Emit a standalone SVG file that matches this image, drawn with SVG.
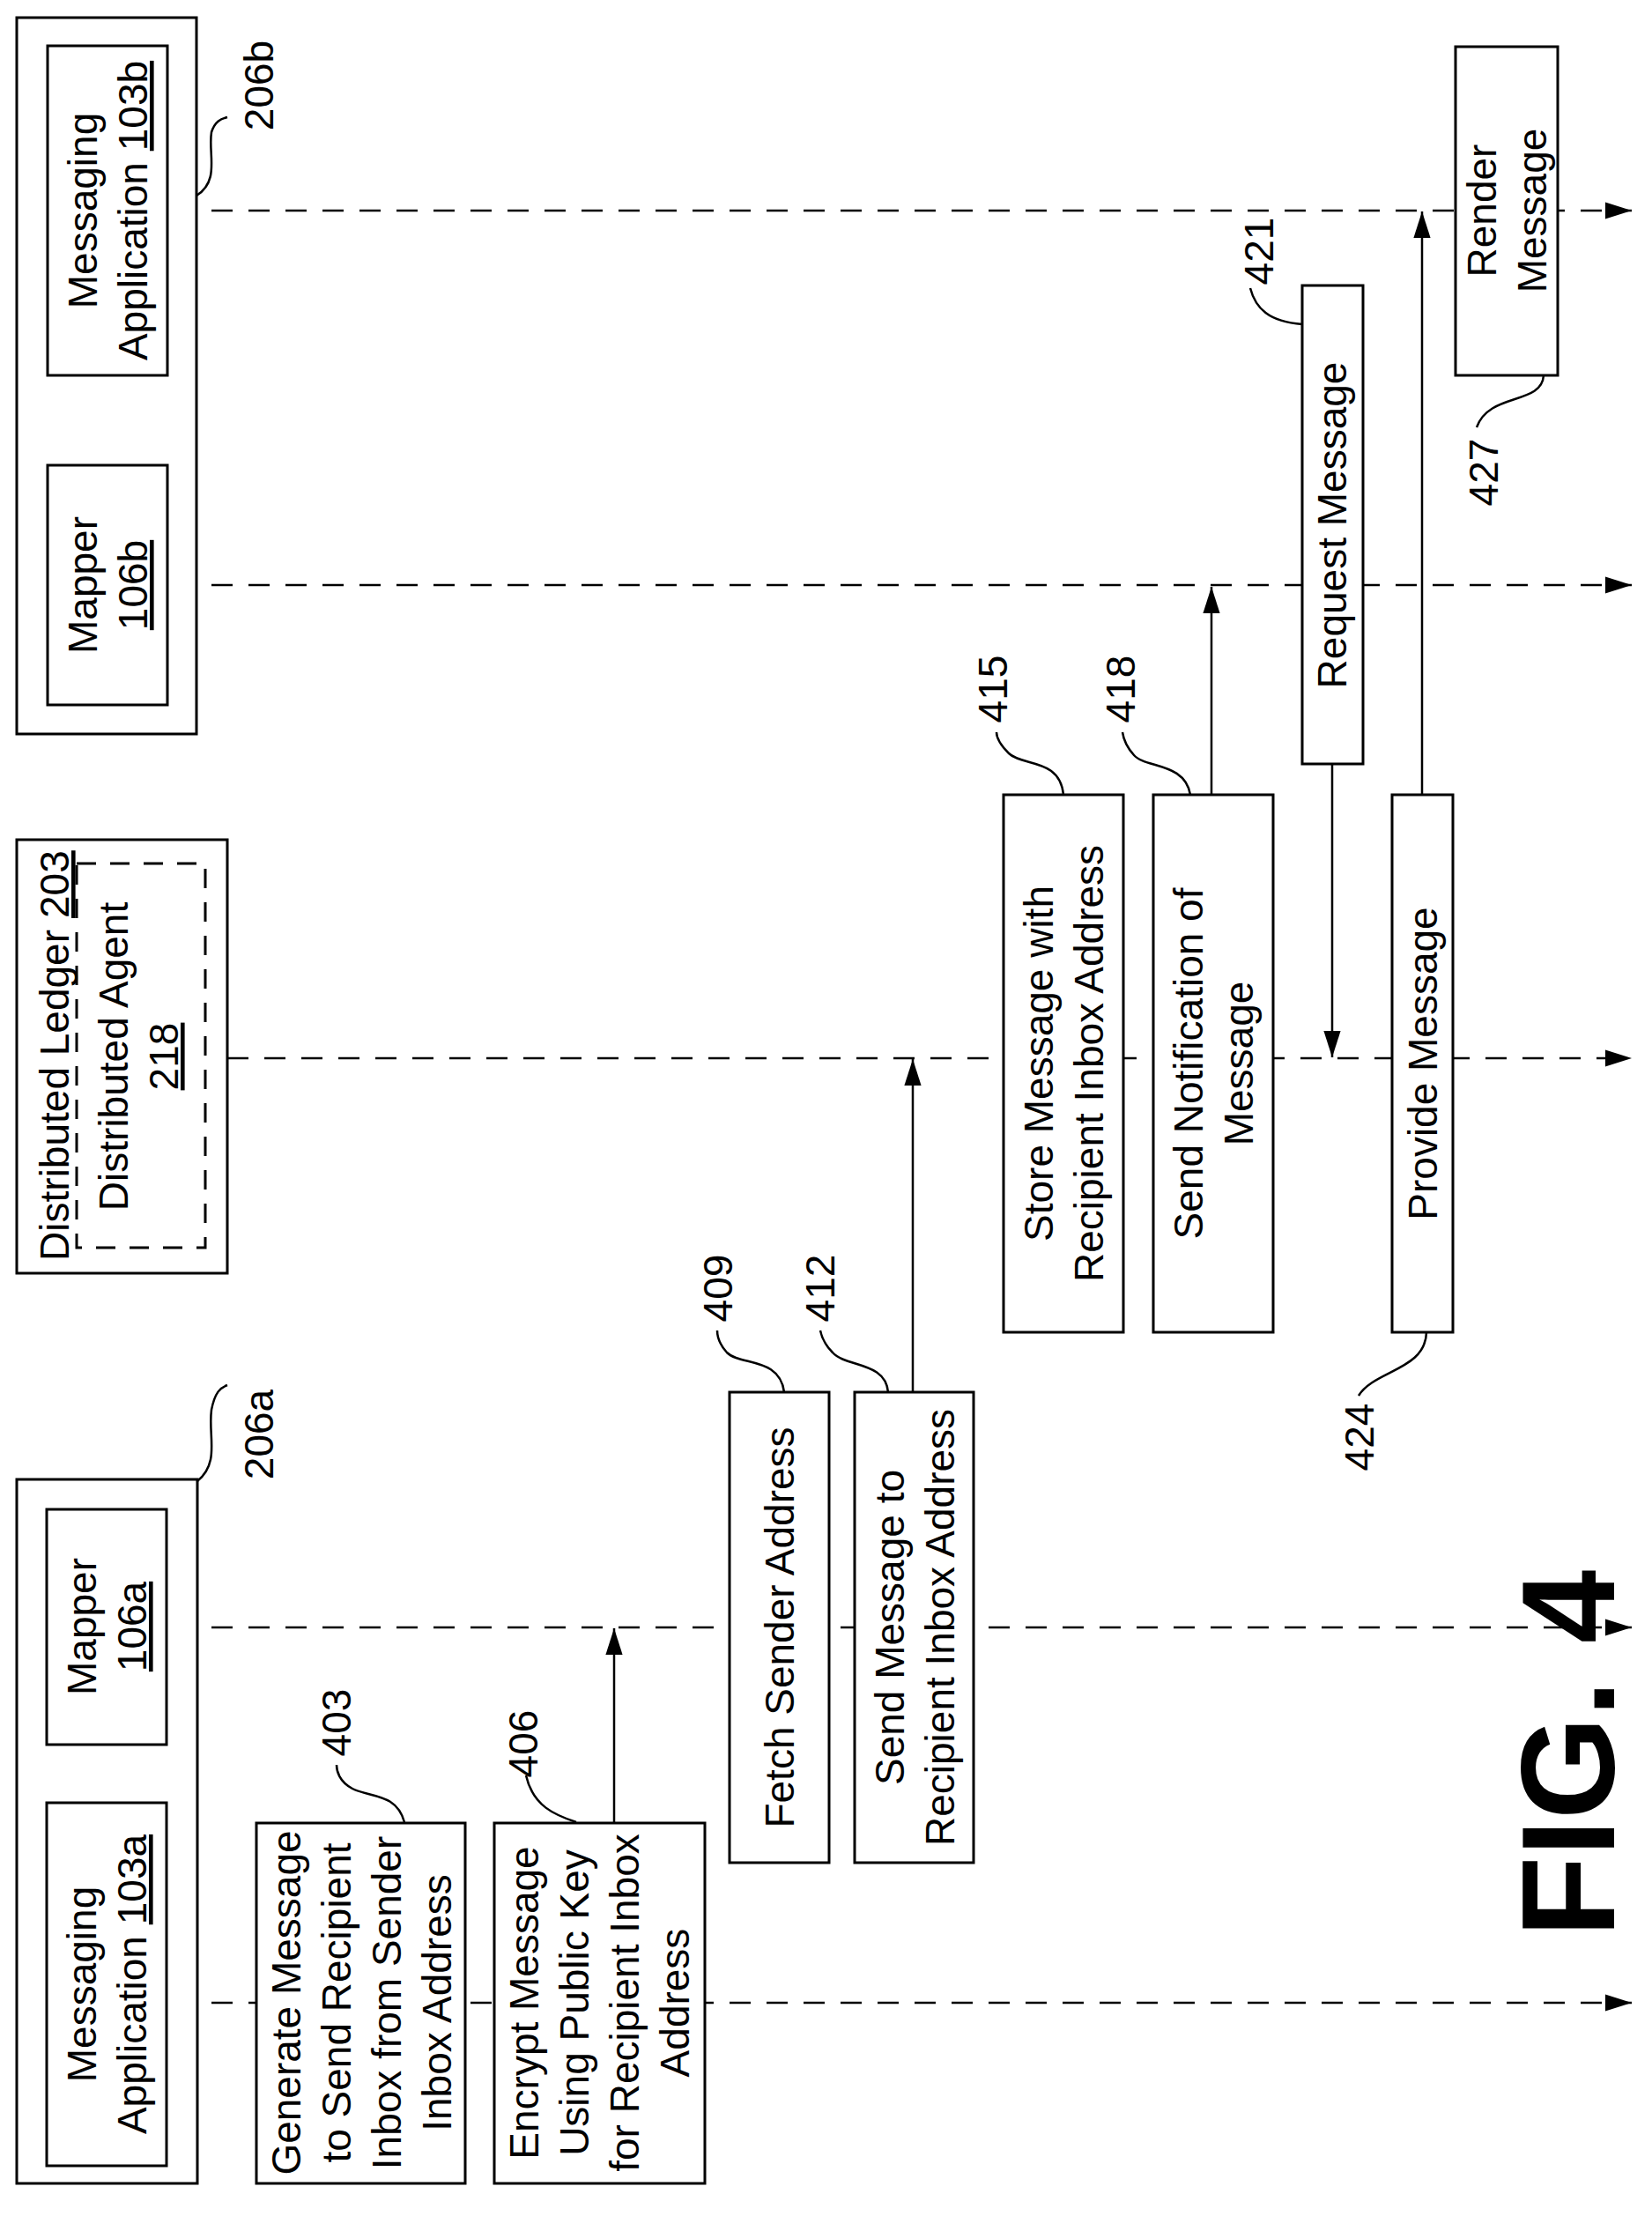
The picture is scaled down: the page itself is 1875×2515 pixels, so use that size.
<svg xmlns="http://www.w3.org/2000/svg" width="1875" height="2515" viewBox="0 0 1875 2515">
<style>
rect{fill:#fff;stroke:#000;stroke-width:3}
.dash{stroke-dasharray:22 16}
text{font-family:"Liberation Sans",Arial,sans-serif;font-size:46px;fill:#000;text-anchor:middle}
.life{stroke:#000;stroke-width:2.5;fill:none;stroke-dasharray:24 18}
.arr{stroke:#000;stroke-width:2.5;fill:none}
.lead{stroke:#000;stroke-width:2.5;fill:none}
.u{text-decoration:underline}
</style>
<defs>
<marker id="ah2" viewBox="0 0 10 10" refX="10" refY="5" markerWidth="30" markerHeight="30" markerUnits="userSpaceOnUse" orient="auto"><path d="M0,1.8 L10,5 L0,8.2 z" fill="#000"/></marker>
</defs>
<g id="connectors">
<path class="life" d="M198,2273 H1852" marker-end="url(#ah2)"/>
<path class="life" d="M198,1847 H1852" marker-end="url(#ah2)"/>
<path class="life" d="M258,1201 H1852" marker-end="url(#ah2)"/>
<path class="life" d="M198,664 H1852" marker-end="url(#ah2)"/>
<path class="life" d="M198,239 H1852" marker-end="url(#ah2)"/>
<path class="arr" d="M697,2069 V1848" marker-end="url(#ah2)"/>
<path class="arr" d="M1036,1580 V1202" marker-end="url(#ah2)"/>
<path class="arr" d="M1375,902 V666" marker-end="url(#ah2)"/>
<path class="arr" d="M1512,867 V1200" marker-end="url(#ah2)"/>
<path class="arr" d="M1614,902 V240" marker-end="url(#ah2)"/>
</g>
<g id="n206a"><rect x="19" y="1679" width="205" height="799"/><path class="lead" d="M224,1681 C250,1660 236,1630 240,1600 C244,1580 250,1575 258,1572"/><text transform="translate(294,1628) rotate(-90)" dominant-baseline="central">206a</text></g>
<g id="n103a"><rect x="53" y="2046" width="136" height="412"/><text transform="translate(121,2252) rotate(-90)"><tspan x="0" y="-12">Messaging</tspan><tspan x="0" dy="57">Application <tspan class="u">103a</tspan></tspan></text></g>
<g id="n106a"><rect x="53" y="1713" width="136" height="267"/><text transform="translate(121,1846) rotate(-90)"><tspan x="0" y="-12">Mapper</tspan><tspan x="0" dy="57" class="u">106a</tspan></text></g>
<g id="n203"><rect x="19" y="953" width="239" height="492"/><rect class="dash" x="87" y="980" width="146" height="436"/><g transform="translate(62,1199) rotate(-90)"><text x="144" y="16" style="text-anchor:end">Distributed Ledger</text><text x="157" y="16" class="u" style="text-anchor:start">203</text></g><text transform="translate(157,1199) rotate(-90)"><tspan x="0" y="-12">Distributed Agent</tspan><tspan x="0" dy="57" class="u">218</tspan></text></g>
<g id="n206b"><rect x="19" y="20" width="204" height="813"/><path class="lead" d="M223,222 C250,205 236,175 240,150 C244,138 250,135 258,133"/><text transform="translate(294,97) rotate(-90)" dominant-baseline="central">206b</text></g>
<g id="n103b"><rect x="54" y="52" width="136" height="374"/><text transform="translate(122,239) rotate(-90)"><tspan x="0" y="-12">Messaging</tspan><tspan x="0" dy="57">Application <tspan class="u">103b</tspan></tspan></text></g>
<g id="n106b"><rect x="54" y="528" width="136" height="272"/><text transform="translate(122,664) rotate(-90)"><tspan x="0" y="-12">Mapper</tspan><tspan x="0" dy="57" class="u">106b</tspan></text></g>
<g id="n403"><rect x="291" y="2069" width="237" height="409"/><path class="lead" d="M459,2068 C450,2035 420,2040 400,2030 C385,2022 382,2010 382,2003"/><text transform="translate(382,1955) rotate(-90)" dominant-baseline="central">403</text><text transform="translate(410,2273) rotate(-90)"><tspan x="0" y="-69">Generate Message</tspan><tspan x="0" dy="57">to Send Recipient</tspan><tspan x="0" dy="57">Inbox from Sender</tspan><tspan x="0" dy="57">Inbox Address</tspan></text></g>
<g id="n406"><rect x="561" y="2069" width="239" height="409"/><path class="lead" d="M654,2068 C630,2060 605,2050 597,2015"/><text transform="translate(594,1979) rotate(-90)" dominant-baseline="central">406</text><text transform="translate(680,2273) rotate(-90)"><tspan x="0" y="-69">Encrypt Message</tspan><tspan x="0" dy="57">Using Public Key</tspan><tspan x="0" dy="57">for Recipient Inbox</tspan><tspan x="0" dy="57">Address</tspan></text></g>
<g id="n409"><rect x="828" y="1580" width="113" height="534"/><path class="lead" d="M890,1580 C885,1540 840,1550 825,1535 C816,1525 814,1515 814,1510"/><text transform="translate(815,1462) rotate(-90)" dominant-baseline="central">409</text><text transform="translate(885,1847) rotate(-90)" dominant-baseline="central">Fetch Sender Address</text></g>
<g id="n412"><rect x="970" y="1580" width="135" height="534"/><path class="lead" d="M1008,1580 C1005,1545 960,1552 945,1535 C935,1525 932,1515 931,1510"/><text transform="translate(931,1462) rotate(-90)" dominant-baseline="central">412</text><text transform="translate(1038,1847) rotate(-90)"><tspan x="0" y="-12">Send Message to</tspan><tspan x="0" dy="57">Recipient Inbox Address</tspan></text></g>
<g id="n415"><rect x="1139" y="902" width="136" height="610"/><path class="lead" d="M1207,902 C1203,860 1160,870 1145,855 C1135,845 1131,838 1131,831"/><text transform="translate(1127,782) rotate(-90)" dominant-baseline="central">415</text><text transform="translate(1207,1207) rotate(-90)"><tspan x="0" y="-12">Store Message with</tspan><tspan x="0" dy="57">Recipient Inbox Address</tspan></text></g>
<g id="n418"><rect x="1309" y="902" width="136" height="610"/><path class="lead" d="M1351,902 C1345,865 1300,872 1287,857 C1278,847 1275,838 1274,831"/><text transform="translate(1272,782) rotate(-90)" dominant-baseline="central">418</text><text transform="translate(1377,1207) rotate(-90)"><tspan x="0" y="-12">Send Notification of</tspan><tspan x="0" dy="57">Message</tspan></text></g>
<g id="n421"><rect x="1478" y="324" width="69" height="543"/><path class="lead" d="M1478,368 C1440,365 1425,350 1419,327"/><text transform="translate(1429,285) rotate(-90)" dominant-baseline="central">421</text><text transform="translate(1512,596) rotate(-90)" dominant-baseline="central">Request Message</text></g>
<g id="n424"><rect x="1580" y="902" width="69" height="610"/><path class="lead" d="M1619,1512 C1618,1555 1560,1555 1542,1584"/><text transform="translate(1543,1631) rotate(-90)" dominant-baseline="central">424</text><text transform="translate(1615,1207) rotate(-90)" dominant-baseline="central">Provide Message</text></g>
<g id="n427"><rect x="1652" y="53" width="116" height="373"/><path class="lead" d="M1752,426 C1750,460 1690,445 1676,485"/><text transform="translate(1684,536) rotate(-90)" dominant-baseline="central">427</text><text transform="translate(1710,239) rotate(-90)"><tspan x="0" y="-12">Render</tspan><tspan x="0" dy="57">Message</tspan></text></g>
<text transform="translate(1780,1990) rotate(-90)" dominant-baseline="central" style="font-size:150px;font-weight:bold">FIG. 4</text>
</svg>
